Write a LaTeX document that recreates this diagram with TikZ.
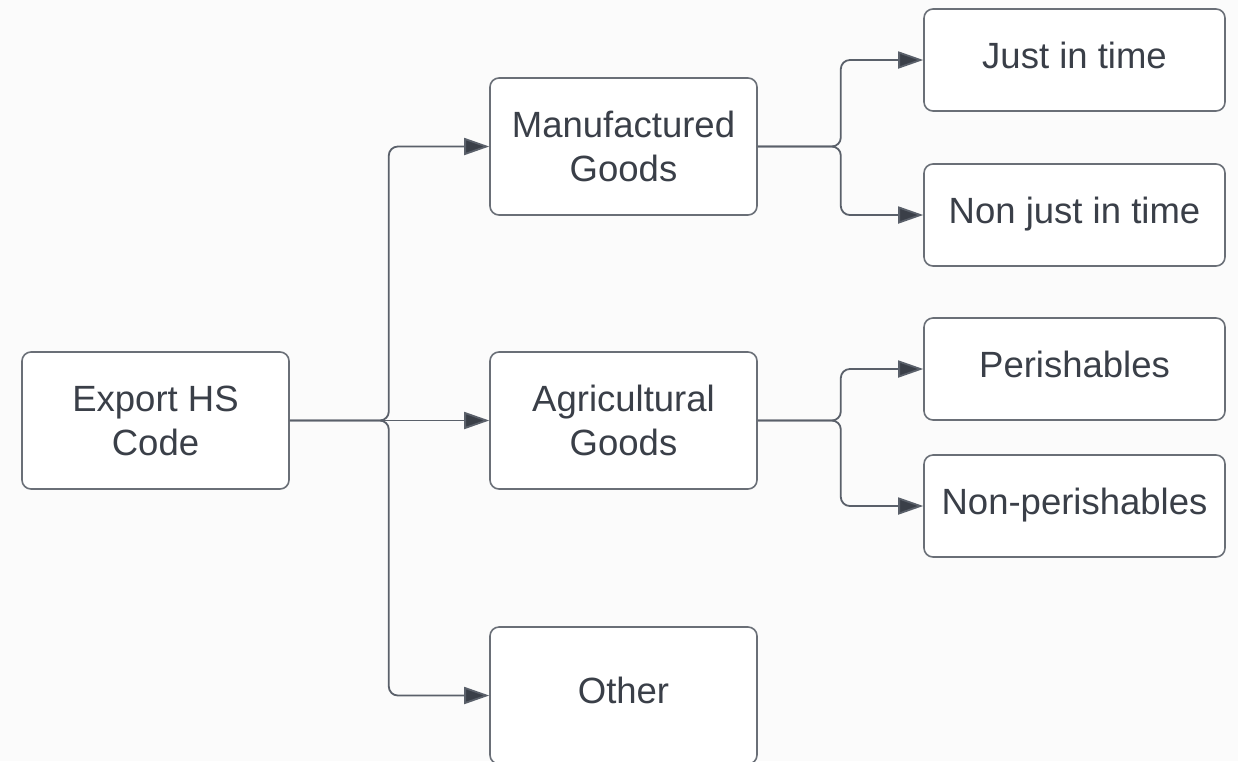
\documentclass[tikz,border=0pt]{standalone}
\usepackage{fontspec}
\setmainfont{Liberation Sans}
\usetikzlibrary{arrows.meta}
\definecolor{bg}{HTML}{FBFBFB}
\definecolor{boxline}{HTML}{6A6F77}
\definecolor{txt}{HTML}{3A3F48}
\definecolor{conn}{HTML}{5A606A}
\begin{document}
\begin{tikzpicture}[x=1pt,y=-1pt,
  box/.style={draw=boxline,line width=1.6pt,fill=white,rounded corners=9pt,
    text=txt,font=\fontsize{36.5}{44}\selectfont,align=center,inner sep=0pt},
  mid/.style={box,minimum width=267pt,minimum height=137pt},
  leaf/.style={box,minimum width=301pt,minimum height=102pt,text height=27pt,text depth=10pt},
  link/.style={draw=conn,line width=1.8pt,rounded corners=9pt,
    -{Triangle[length=25pt,width=17pt,fill=txt]}}]
\fill[bg] (0,0) rectangle (1238,761);
\useasboundingbox (0,0) rectangle (1238,761);
\node[mid] (e) at (155.5,420.5) {Export HS\\Code};
\node[mid] (m) at (623.5,146.5) {Manufactured\\Goods};
\node[mid] (a) at (623.5,420.5) {Agricultural\\Goods};
\node[mid] (o) at (623.5,695.5) {};
\node[text=txt,font=\fontsize{36.5}{44}\selectfont] (ot) at (623.5,690) {Other};
\node[leaf] (j) at (1074.5,60) {Just in time};
\node[leaf] (nj) at (1074.5,215) {Non just in time};
\node[leaf] (p) at (1074.5,369) {Perishables};
\node[leaf] (np) at (1074.5,506) {Non-perishables};
\draw[link] (e.east) -- ++(99,0) |- (m.west);
\draw[link] (e.east) -- (a.west);
\draw[link] (e.east) -- ++(99,0) |- (o.west);
\draw[link] (m.east) -- ++(83,0) |- (j.west);
\draw[link] (m.east) -- ++(83,0) |- (nj.west);
\draw[link] (a.east) -- ++(83,0) |- (p.west);
\draw[link] (a.east) -- ++(83,0) |- (np.west);
\end{tikzpicture}
\end{document}
